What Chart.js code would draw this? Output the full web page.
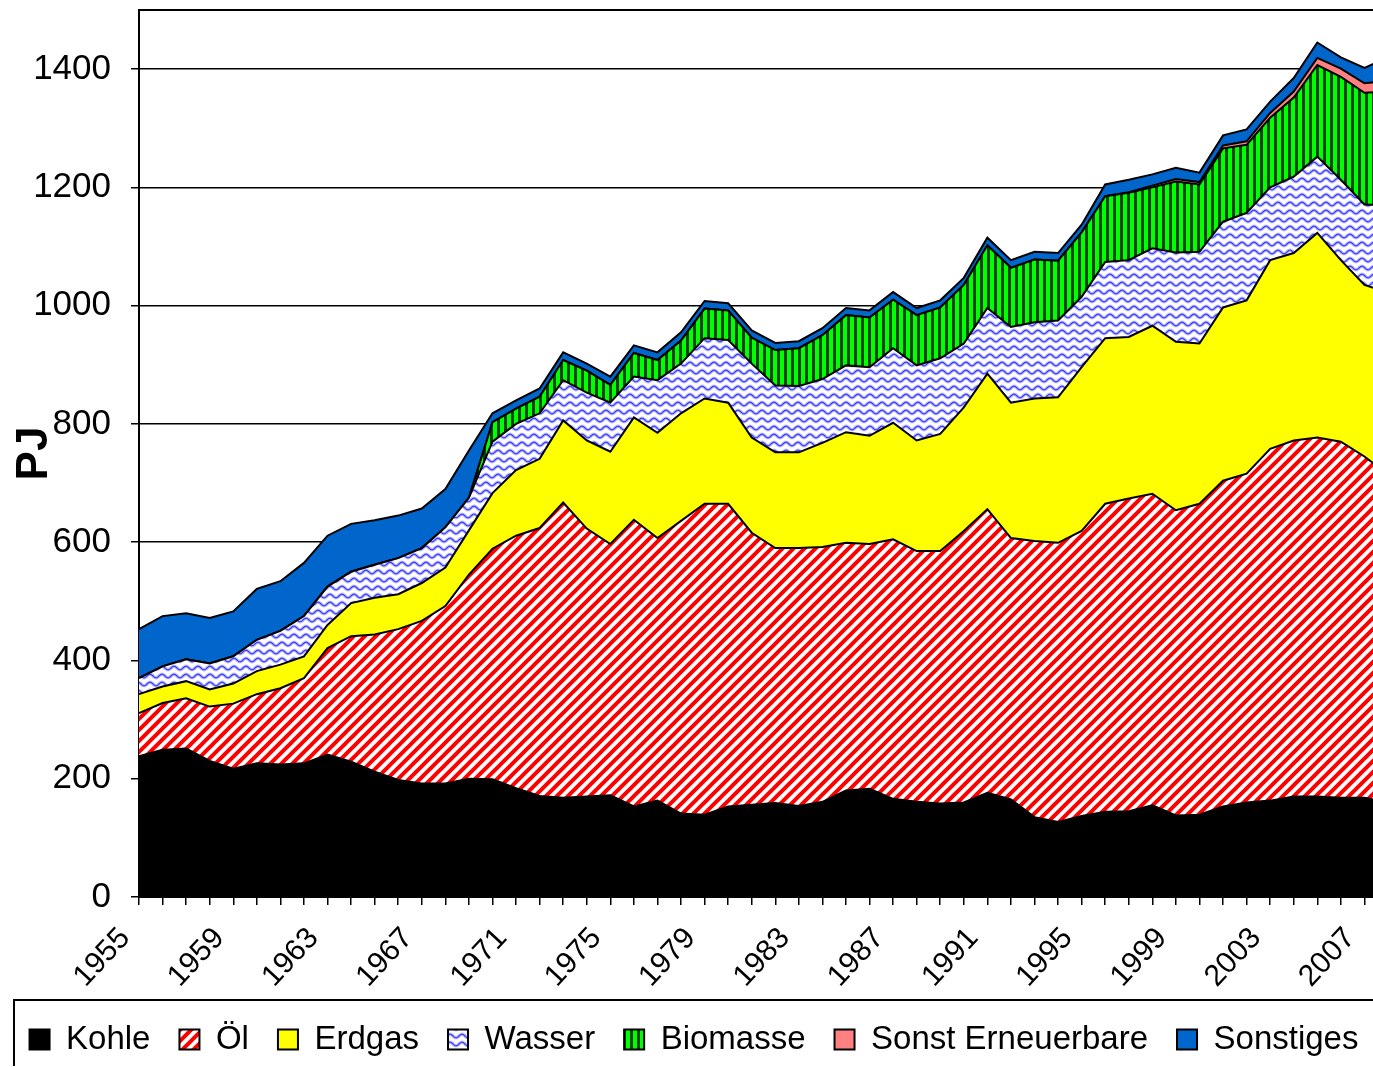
<!DOCTYPE html>
<html><head><meta charset="utf-8">
<script src="https://cdn.jsdelivr.net/npm/chart.js@4.4.1/dist/chart.umd.min.js"></script>
<style>
html,body{margin:0;padding:0;overflow:hidden;background:#fff;width:1373px;height:1067px}
#wrap{position:absolute;left:0;top:0;width:1400px;height:1066px}
canvas{display:block}
</style></head><body><div id="wrap"><canvas id="c" width="1400" height="1066"></canvas></div>
<script>
const years = ["1955","1956","1957","1958","1959","1960","1961","1962","1963","1964",
"1965","1966","1967","1968","1969","1970","1971","1972","1973","1974",
"1975","1976","1977","1978","1979","1980","1981","1982","1983","1984",
"1985","1986","1987","1988","1989","1990","1991","1992","1993","1994",
"1995","1996","1997","1998","1999","2000","2001","2002","2003","2004",
"2005","2006","2007","2008"];
const kohle = [238,249,251,230,217,226,224,226,241,229,
212,198,192,192,200,199,184,171,168,170,
172,153,163,141,139,153,156,159,154,161,
180,183,166,161,158,160,176,165,135,127,
137,144,145,155,138,139,153,160,163,170,
170,168,168,160];
const oel = [73,79,85,92,110,117,129,144,180,212,
232,255,275,300,345,390,427,453,499,453,
425,485,444,495,526,512,460,431,436,431,
419,414,439,424,427,459,480,442,467,472,
482,521,529,527,516,526,551,556,595,602,
607,602,577,555];
const erdgas = [32,28,29,29,34,39,40,37,39,56,
62,59,64,65,75,94,111,117,139,149,
156,173,178,182,178,171,161,162,162,176,
187,183,197,187,198,209,229,229,241,246,
277,280,273,284,285,271,293,293,319,317,
346,307,290,307];
const wasser = [27,34,37,44,46,53,57,68,65,53,
56,61,59,68,55,87,78,77,68,81,
83,69,89,84,102,106,125,113,112,108,
113,116,126,127,128,108,111,128,129,130,
119,129,130,131,151,155,145,148,123,129,
129,136,136,148];
const biomasse = [0,0,0,0,0,0,0,0,0,0,
0,0,0,0,0,33,26,28,34,37,
30,40,34,39,50,50,44,60,64,74,
85,84,82,85,86,99,106,100,106,101,
109,111,114,103,120,114,124,115,118,134,
155,174,189,192];
const sonstErneuerbare = [0,0,0,0,0,0,0,0,0,0,
0,0,0,0,0,0,0,0,0,0,
0,0,0,0,0,0,0,0,0,0,
0,0,0,0,0,0,0,0,0,0,
0,0,1,3,4,4,5,6,8,10,
12,14,16,18];
const sonstiges = [83,85,78,77,76,86,84,90,86,81,
75,72,67,65,80,15,14,14,13,12,
14,13,13,14,13,12,12,12,12,12,
12,12,13,12,12,12,13,13,13,13,
13,20,21,19,19,16,17,20,19,23,
26,19,26,40];
const yTicks = [0,200,400,600,800,1000,1200,1400];

const FONT = "'Liberation Sans', Arial, Helvetica, sans-serif";
Chart.defaults.font.family = FONT;
Chart.defaults.color = '#000';

function makePattern(w, h, draw){
  const c = document.createElement('canvas'); c.width = w; c.height = h;
  const g = c.getContext('2d'); draw(g, w, h);
  return g.createPattern(c, 'repeat');
}
const oelPat = makePattern(11, 11, (g, s) => {
  g.fillStyle = '#fff'; g.fillRect(0, 0, s, s);
  g.strokeStyle = '#ff0000'; g.lineWidth = 4; g.beginPath();
  for (const k of [0, 1, 2]) { g.moveTo(-s, k*s + s); g.lineTo(2*s, k*s - 2*s); }
  g.stroke();
});
const wasserPat = makePattern(12, 8, (g, w, h) => {
  g.fillStyle = '#fff'; g.fillRect(0, 0, w, h);
  const path = () => { g.beginPath(); for (let x = -1; x <= w + 1; x += 0.5) { const y = 4 + 1.8*Math.cos(2*Math.PI*x/w); if (x === -1) g.moveTo(x, y); else g.lineTo(x, y); } };
  path(); g.strokeStyle = '#b4b4ff'; g.lineWidth = 3.2; g.stroke();
  path(); g.strokeStyle = '#3535ff'; g.lineWidth = 1.1; g.stroke();
});
const bioPat = makePattern(7, 4, (g, w, h) => {
  g.fillStyle = '#00ff00'; g.fillRect(0, 0, w, h);
  g.fillStyle = '#004400'; g.fillRect(0, 0, 3, h);
});

const base = {borderColor:'#000', borderWidth:2, pointRadius:0, pointHoverRadius:0, pointHitRadius:0, tension:0};
const datasets = [
  {label:'Kohle', data:kohle, backgroundColor:'#000000', fill:'origin'},
  {label:'Öl', data:oel, backgroundColor:oelPat, fill:'-1'},
  {label:'Erdgas', data:erdgas, backgroundColor:'#ffff00', fill:'-1'},
  {label:'Wasser', data:wasser, backgroundColor:wasserPat, fill:'-1'},
  {label:'Biomasse', data:biomasse, backgroundColor:bioPat, fill:'-1'},
  {label:'Sonst Erneuerbare', data:sonstErneuerbare, backgroundColor:'#ff8080', fill:'-1'},
  {label:'Sonstiges', data:sonstiges, backgroundColor:'#0066cc', fill:'-1'}
].map(d => Object.assign({}, base, d));

const framePlugin = {
  id:'frame',
  afterDraw(chart){
    const {ctx, chartArea:a} = chart;
    ctx.save(); ctx.strokeStyle = '#000'; ctx.lineWidth = 2;
    ctx.beginPath(); ctx.moveTo(a.left, a.top); ctx.lineTo(a.right + 20, a.top); ctx.stroke();
    ctx.strokeRect(14, 1000, 1500, 200);
    ctx.restore();
  }
};

new Chart(document.getElementById('c'), {
  type:'line',
  data:{labels:years, datasets},
  plugins:[framePlugin],
  options:{
    responsive:false, animation:false, devicePixelRatio:1,
    layout:{padding:{top:10, right:12, left:0, bottom:0}},
    plugins:{
      legend:{position:'bottom', labels:{font:{size:33}, boxWidth:20, boxHeight:20, padding:29, color:'#000'}},
      tooltip:{enabled:false}
    },
    scales:{
      x:{
        offset:false,
        grid:{drawOnChartArea:false, color:'#000', lineWidth:1.5, tickLength:8},
        border:{color:'#000', width:2},
        ticks:{autoSkip:false, maxRotation:47, minRotation:47, font:{size:30}, color:'#000', padding:16, labelOffset:-14,
          callback:function(v, i){ return i % 4 === 0 ? this.getLabelForValue(v) : ''; }},
        afterFit:(s) => { s.height = 97; s.paddingLeft = 0; s.paddingRight = 0; }
      },
      y:{
        stacked:true, min:0, max:1500,
        afterBuildTicks:(s) => { s.ticks = yTicks.map(v => ({value:v})); },
        afterFit:(s) => { s.width = 139; s.paddingTop = 0; s.paddingBottom = 0; },
        grid:{color:'#000', lineWidth:1.5, tickLength:8},
        border:{color:'#000', width:2},
        ticks:{font:{size:35}, color:'#000', padding:20, callback:(v) => String(v)},
        title:{display:true, text:'PJ', font:{size:44, weight:'bold'}, color:'#000', padding:{top:8, bottom:0}}
      }
    }
  }
});
</script></body></html>
